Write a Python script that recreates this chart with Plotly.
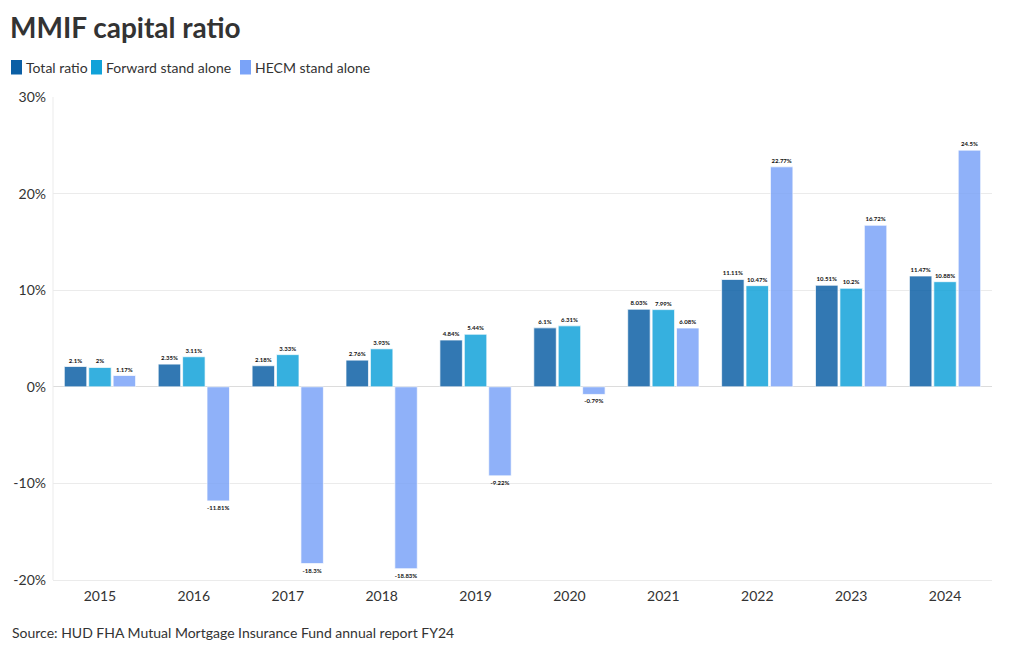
import plotly.graph_objects as go

years = ["2015", "2016", "2017", "2018", "2019", "2020", "2021", "2022", "2023", "2024"]
total_ratio = [2.1, 2.35, 2.18, 2.76, 4.84, 6.1, 8.03, 11.11, 10.51, 11.47]
forward_ratio = [2, 3.11, 3.33, 3.93, 5.44, 6.31, 7.99, 10.47, 10.2, 10.88]
hecm_ratio = [1.17, -11.81, -18.3, -18.83, -9.22, -0.79, 6.08, 22.77, 16.72, 24.5]
y_ticks = [-20, -10, 0, 10, 20, 30]
y_tick_labels = ["-20%", "-10%", "0%", "10%", "20%", "30%"]

series = [
    ("Total ratio", total_ratio, "#0b5fa5"),
    ("Forward stand alone", forward_ratio, "#10a2d9"),
    ("HECM stand alone", hecm_ratio, "#7aa3f8"),
]

# page is offset by the browser's 8px body margin
W, H = 1004, 634
L, R, T, B = 45, 20, 89, 62
PW, PH = W - L - R, H - T - B


def px_x(x):  # window px -> paper
    return (x - 8 - L) / PW


def px_y(y):
    return (H - B - (y - 8)) / PH


fig = go.Figure()
for name, vals, color in series:
    fig.add_trace(go.Bar(
        name=name, x=years, y=vals,
        marker=dict(color=color, opacity=0.84, line=dict(color="rgba(255,255,255,0.7)", width=1)),
        text=[f"{v:g}%" for v in vals],
        textposition="outside",
        textfont=dict(family="Lato, sans-serif", size=6, color="#111111", weight="bold"),
        cliponaxis=False,
        hoverinfo="skip",
        showlegend=False,
    ))

fig.update_layout(
    width=W, height=H,
    barmode="group", bargap=0.22, bargroupgap=0.08,
    plot_bgcolor="white", paper_bgcolor="white",
    font=dict(family="Lato, sans-serif", color="#333333"),
    margin=dict(l=L, r=R, t=T, b=B, autoexpand=False),
    title=dict(text="<b>MMIF capital ratio</b>", x=2 / W, xanchor="left", xref="container",
               y=1 - 20 / H, yanchor="middle", yref="container",
               font=dict(size=28, color="#333333")),
    showlegend=False,
)
fig.update_yaxes(range=[-20, 30], tickvals=y_ticks, ticktext=y_tick_labels,
                 gridcolor="#ebebeb", zeroline=True, zerolinecolor="#dcdcdc", zerolinewidth=1,
                 tickfont=dict(size=14, color="#333333"), ticks="", showline=False,
                 ticklabelstandoff=6)
fig.update_xaxes(tickfont=dict(size=14, color="#333333"), showline=True, linecolor="#ebebeb",
                 ticks="", showgrid=False, ticklabelstandoff=3)
fig.add_shape(type="line", xref="paper", yref="paper", x0=0, x1=0, y0=0, y1=1,
              line=dict(color="#ebebeb", width=1))

# custom legend
legend_pos = [(11, 24), (91, 104), (240, 253)]
for (name, vals, color), (sx, tx) in zip(series, legend_pos):
    fig.add_shape(type="rect", xref="paper", yref="paper",
                  x0=px_x(sx), x1=px_x(sx + 11), y0=px_y(74.5), y1=px_y(60),
                  fillcolor=color, line=dict(width=0))
    fig.add_annotation(text=name, xref="paper", yref="paper", x=px_x(tx), y=px_y(67.5),
                       xanchor="left", yanchor="middle", showarrow=False,
                       font=dict(size=14, color="#333333"))

fig.add_annotation(text="Source: HUD FHA Mutual Mortgage Insurance Fund annual report FY24",
                   xref="paper", yref="paper", x=px_x(10), y=px_y(632), xanchor="left",
                   yanchor="middle", showarrow=False, font=dict(size=14, color="#333333"))

fig.write_html("out.html")
